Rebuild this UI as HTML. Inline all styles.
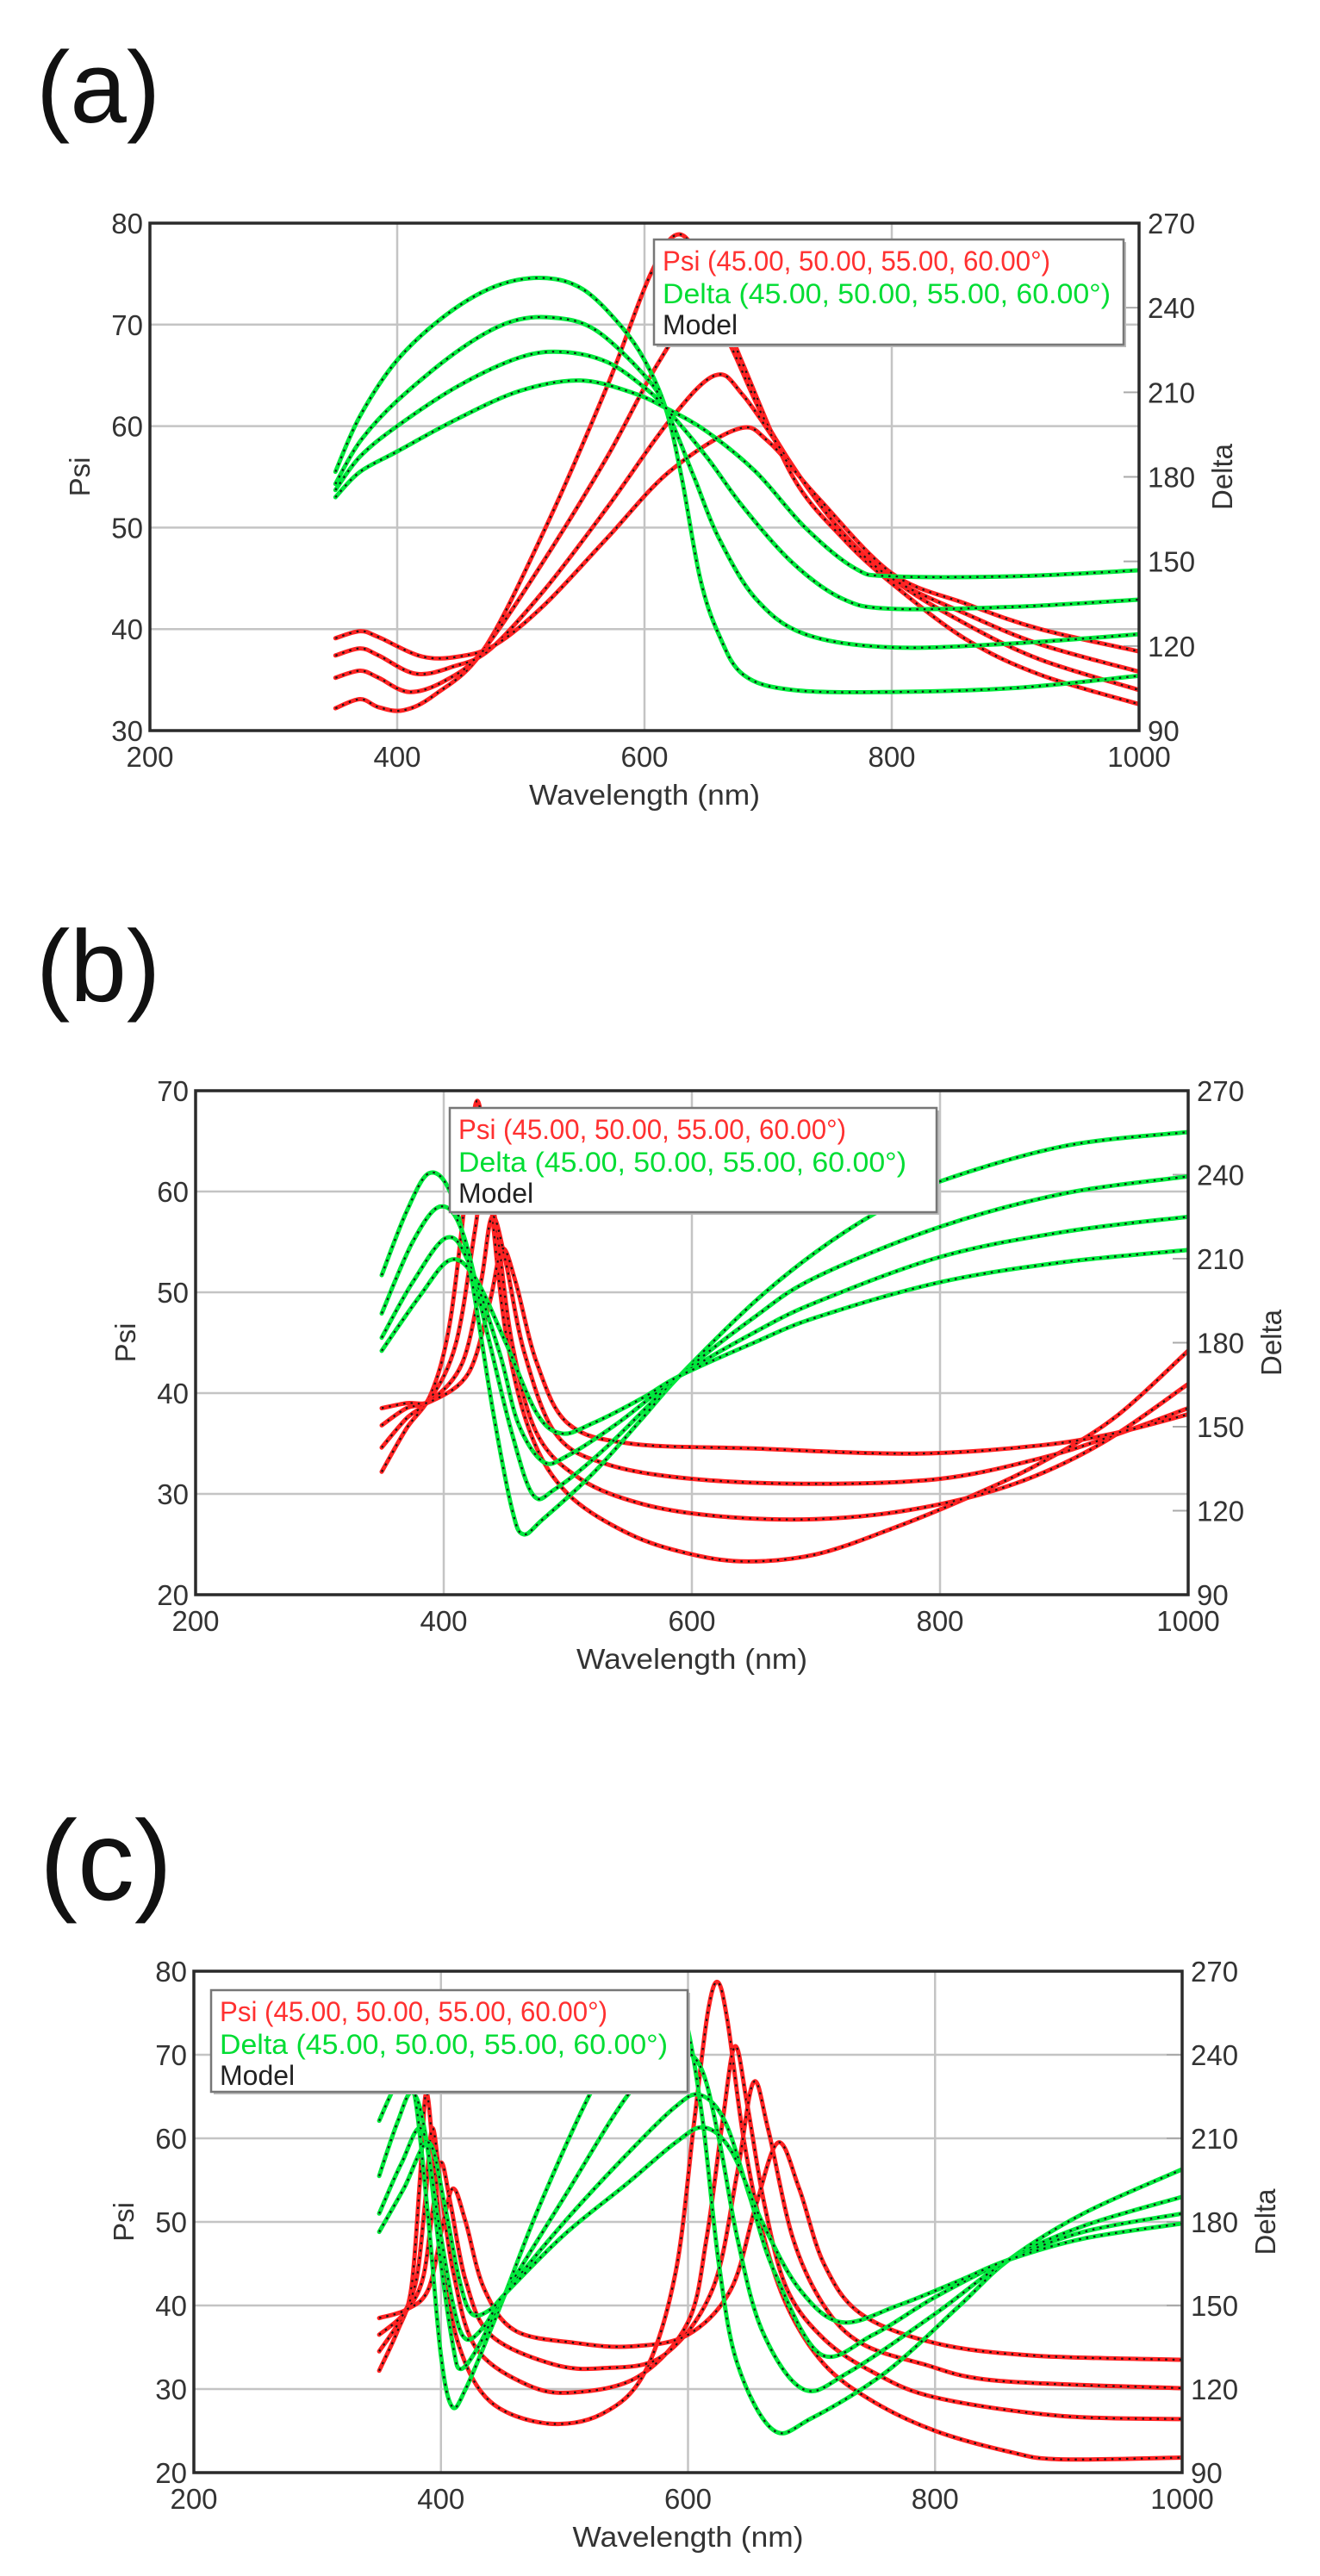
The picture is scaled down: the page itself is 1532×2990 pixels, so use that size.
<!DOCTYPE html>
<html><head><meta charset="utf-8">
<style>
html,body{margin:0;padding:0;background:#fff;}
svg{display:block;}
text{font-family:"Liberation Sans",Arial,sans-serif;}
</style></head>
<body>
<svg id="s" width="1532" height="2990" viewBox="0 0 1532 2990" xmlns="http://www.w3.org/2000/svg">
<rect width="1532" height="2990" fill="#fff"/>
<text x="42" y="142" font-family="Liberation Serif, serif" font-size="118" fill="#111">(a)</text>
<text x="42" y="1162" font-family="Liberation Serif, serif" font-size="118" fill="#111">(b)</text>
<text x="46" y="2205" font-family="Liberation Serif, serif" font-size="132" fill="#111">(c)</text>
</svg>
<script>
const NS="http://www.w3.org/2000/svg";
const S=document.getElementById('s');
function el(tag,attrs,parent,txt){const e=document.createElementNS(NS,tag);for(const k in attrs)e.setAttribute(k,attrs[k]);if(txt!==undefined)e.textContent=txt;(parent||S).appendChild(e);return e;}
function parse(str){return str.split(',').map(p=>p.trim().split(/\s+/).map(Number));}
function pathFrom(pts){
  let d='M'+pts[0][0].toFixed(1)+' '+pts[0][1].toFixed(1);
  for(let i=0;i<pts.length-1;i++){
    const p0=pts[Math.max(0,i-1)],p1=pts[i],p2=pts[i+1],p3=pts[Math.min(pts.length-1,i+2)];
    const t=6;
    const c1=[p1[0]+(p2[0]-p0[0])/t,p1[1]+(p2[1]-p0[1])/t];
    const c2=[p2[0]-(p3[0]-p1[0])/t,p2[1]-(p3[1]-p1[1])/t];
    d+=' C'+c1[0].toFixed(1)+' '+c1[1].toFixed(1)+' '+c2[0].toFixed(1)+' '+c2[1].toFixed(1)+' '+p2[0].toFixed(1)+' '+p2[1].toFixed(1);
  }
  return d;
}
let cid=0;
function panel(c){
  const X=l=>c.L+(l-200)*(c.R-c.L)/800;
  const Y=v=>c.B-(v-c.ymin)*(c.B-c.T)/(c.ymax-c.ymin);
  const g=el('g',{});
  for(const l of [400,600,800]) el('line',{x1:X(l),x2:X(l),y1:c.T,y2:c.B,stroke:'#c4c4c4','stroke-width':2.5},g);
  for(let v=c.ymin+10;v<c.ymax;v+=10) el('line',{x1:c.L,x2:c.R,y1:Y(v),y2:Y(v),stroke:'#c4c4c4','stroke-width':2.5},g);
  for(let i=1;i<6;i++){const y=c.B-(c.B-c.T)*i/6; el('line',{x1:c.R-18,x2:c.R,y1:y,y2:y,stroke:'#aaa','stroke-width':2},g);}
  cid++;
  const cp=el('clipPath',{id:'cp'+cid},g);
  el('rect',{x:c.L,y:c.T,width:c.R-c.L,height:c.B-c.T},cp);
  const cg=el('g',{'clip-path':'url(#cp'+cid+')'},g);
  const draw=(list,col)=>{for(const s of list){const pts=parse(s).map(p=>[X(p[0]),Y(p[1])]);const d=pathFrom(pts);
    el('path',{d:d,fill:'none',stroke:col,'stroke-width':5,'stroke-linecap':'round'},cg);
    el('path',{d:d,fill:'none',stroke:'#151515','stroke-width':2.2,'stroke-dasharray':'2.5 6'},cg);}};
  draw(c.red,'#ff2222');
  draw(c.green,'#00e83c');
  el('rect',{x:c.L,y:c.T,width:c.R-c.L,height:c.B-c.T,fill:'none',stroke:'#2a2a2a','stroke-width':3.5},g);
  for(let v=c.ymin;v<=c.ymax;v+=10) el('text',{x:c.L-8,y:Y(v)+12,'font-size':33,'text-anchor':'end',fill:'#333'},g,String(v));
  for(let i=0;i<=6;i++){const y=c.B-(c.B-c.T)*i/6; el('text',{x:c.R+10,y:y+12,'font-size':33,fill:'#333'},g,String(90+30*i));}
  for(const l of [200,400,600,800,1000]) el('text',{x:X(l),y:c.B+42,'font-size':33,'text-anchor':'middle',fill:'#333'},g,String(l));
  el('text',{x:(c.L+c.R)/2,y:c.B+86,'font-size':33,'text-anchor':'middle',fill:'#333',textLength:268,lengthAdjust:'spacingAndGlyphs'},g,'Wavelength (nm)');
  const my=(c.T+c.B)/2;
  el('text',{x:0,y:0,'font-size':33,'text-anchor':'middle',fill:'#333',transform:`translate(${c.L-70},${my}) rotate(-90)`},g,'Psi');
  el('text',{x:0,y:0,'font-size':33,'text-anchor':'middle',fill:'#333',transform:`translate(${c.R+108},${my}) rotate(-90)`},g,'Delta');
  const lg=c.leg;
  el('rect',{x:lg[0]+3,y:lg[1]+3,width:lg[2]-lg[0],height:lg[3]-lg[1],fill:'#bbb'},g);
  el('rect',{x:lg[0],y:lg[1],width:lg[2]-lg[0],height:lg[3]-lg[1],fill:'#fff',stroke:'#777','stroke-width':2.5},g);
  const tx=lg[0]+10;
  el('text',{x:tx,y:lg[1]+36,'font-size':32,fill:'#ff3030',textLength:450,lengthAdjust:'spacingAndGlyphs'},g,'Psi (45.00, 50.00, 55.00, 60.00°)');
  el('text',{x:tx,y:lg[1]+74,'font-size':32,fill:'#00dd33',textLength:520,lengthAdjust:'spacingAndGlyphs'},g,'Delta (45.00, 50.00, 55.00, 60.00°)');
  el('text',{x:tx,y:lg[1]+110,'font-size':32,fill:'#222'},g,'Model');
}
panel({L:174,R:1322,T:259,B:848,ymin:30,ymax:80,leg:[759,278,1304,400],
 red:[
 "350 32.2,370 33.1,385 32.3,405 32,430 33.5,470 38,520 50,570 64,605 75,628 78.9,650 75,680 66,720 55,760 49,800 44.5,860 39,920 35.5,1000 32.6",
 "350 35.2,370 35.9,385 35.2,410 33.8,440 35,470 38,520 47,570 57,610 66,643 71.5,665 69,700 60,750 51,800 45,860 40.5,920 37,1000 34",
 "350 37.4,370 38.1,385 37.4,415 35.6,445 36.3,475 38,520 44,570 52,620 60.5,657 65,680 63,720 56,760 49.5,800 45,860 41.5,920 38.5,1000 35.8",
 "350 39.1,370 39.8,385 39.2,420 37.3,450 37.3,480 38.5,520 42.5,570 49,620 55.5,675 59.7,700 58.5,740 53,800 45.5,860 42.5,920 40,1000 37.8"],
 green:[
 "350 55.5,370 61,400 66.5,440 71,480 73.8,518 74.6,550 73.5,580 70,600 66.5,617 61.8,630 55,645 45,660 39.5,680 35.5,720 34,800 33.8,900 34.2,1000 35.4",
 "350 54.3,370 58.5,400 62.5,450 67.5,490 70.2,525 70.7,560 69.5,600 65,617 61.8,640 55,660 49,690 43,730 39.5,800 38.2,900 38.6,1000 39.5",
 "350 53.7,370 57,400 60,450 64,500 66.8,535 67.3,570 66.3,600 63.8,617 61.8,650 57,680 52,720 46.5,760 43,800 42,900 42.2,1000 42.9",
 "350 53,370 55.5,400 57.5,450 60.8,500 63.5,548 64.5,590 63.3,617 61.8,650 59.5,690 55.5,730 50,770 46,800 45.2,900 45.2,1000 45.8"]});
panel({L:227,R:1379,T:1266,B:1851,ymin:20,ymax:70,leg:[522,1286,1087,1407],
 red:[
 "350 32.2,370 36.5,390 40,405 47,418 60,427 69,437 60,450 46,470 36,500 30,550 26,600 24,645 23.3,700 24,760 26.5,820 29.5,880 33,940 37.5,1000 44.2",
 "350 34.6,370 37.5,390 39.6,410 45,425 56,433 62,443 56,455 45,475 36,510 31.5,560 29,620 27.8,700 27.5,780 28.5,860 31,930 35,1000 40.9",
 "350 36.8,370 38.5,390 39.3,415 43,430 51,439 57.5,450 53,465 44,490 36,530 33,600 31.5,700 31,800 31.5,880 33.5,940 35.8,1000 38.5",
 "350 38.5,370 39,390 39.2,420 42,437 49,447 54.3,458 51,475 43,500 37,550 35,650 34.5,780 34,880 34.8,940 36,1000 37.9"],
 green:[
 "350 51.7,370 58,388 61.8,405 60,420 53,440 38,455 28.5,464 26,480 27.5,520 32,560 37.5,590 41.7,650 49,700 54,750 58,800 61,900 64.5,1000 65.9",
 "350 47.9,375 55,397 58.5,415 56,435 46,455 36,472 29.9,490 30.5,530 34.5,590 41.7,650 47.5,700 51.5,800 56.5,900 59.8,1000 61.5",
 "350 45.5,375 51,402 55.4,420 53,445 44,460 37,480 33.2,500 33.8,540 37,590 41.7,650 46,700 49,800 53.5,900 56,1000 57.5",
 "350 44.2,380 49.5,405 53.2,425 51.5,450 45,475 38,495 36,520 37,560 39.5,590 41.7,650 45,700 47.5,800 51,900 53,1000 54.2"]});
panel({L:225,R:1372,T:2288,B:2870,ymin:20,ymax:80,leg:[245,2310,798,2428],
 red:[
 "350 32.2,365 37,376 42,383 55,388 65.4,394 58,402 45,415 35,440 28.5,485 25.9,530 27,565 32,590 44,605 62,616 75,624 78.7,632 74,645 60,660 49,680 40,710 33,750 28.5,800 25,860 22.5,900 21.6,1000 21.8",
 "350 34.5,368 38.5,380 43,387 52,393 61.2,400 54,410 44,428 35,470 30.5,508 29.6,560 31.5,600 38,615 48,628 62,638 71,648 64,662 52,680 42,710 36,750 32,800 29,900 26.8,1000 26.4",
 "350 36.5,370 39,385 43,393 51,400 57.1,408 52,420 43,440 36.5,490 33,531 32.5,580 34,620 42,640 56,653 66.7,665 61,685 48,710 40,740 35.5,790 33,850 31,1000 30.1",
 "350 38.5,372 39.5,390 42,402 50,410 54,420 50,435 42,460 37,510 35.5,554 35.1,600 36.5,635 42,655 52,673 59.5,690 54,710 45,740 39,800 35.5,880 34,1000 33.5"],
 green:[
 "350 62.1,362 66,372 68,380 64,390 50,400 34,409 27.9,420 30,440 37,452 41.4,480 52,522 65.7,560 75,590 77,600 73,612 62,625 45,640 33,669 25.1,700 26.5,760 32,820 40,860 45.5,920 51,1000 56.3",
 "350 55.5,365 62,377 65.5,388 60,400 45,410 35,416 32.4,430 35,452 41.4,500 53,554 65.7,590 70,610 68.6,625 60,640 48,660 37,693 30,730 32,800 39,860 45.5,920 49.5,1000 53",
 "350 51,368 57,385 61,398 50,410 40,420 36,435 37.5,452 41.4,500 50,550 58,590 63.8,610 65.2,630 62,650 53,670 44,707 34.2,750 36.5,800 41,860 45.5,920 48.8,1000 51",
 "350 48.8,370 54,390 59.5,403 52,415 43,425 39,440 39.5,452 41.4,500 48.5,550 54.5,590 59.5,613 61.3,635 58.5,660 50,690 42,724 38,770 40,820 43,860 45.5,920 48,1000 49.8"]});
</script>
</body></html>
